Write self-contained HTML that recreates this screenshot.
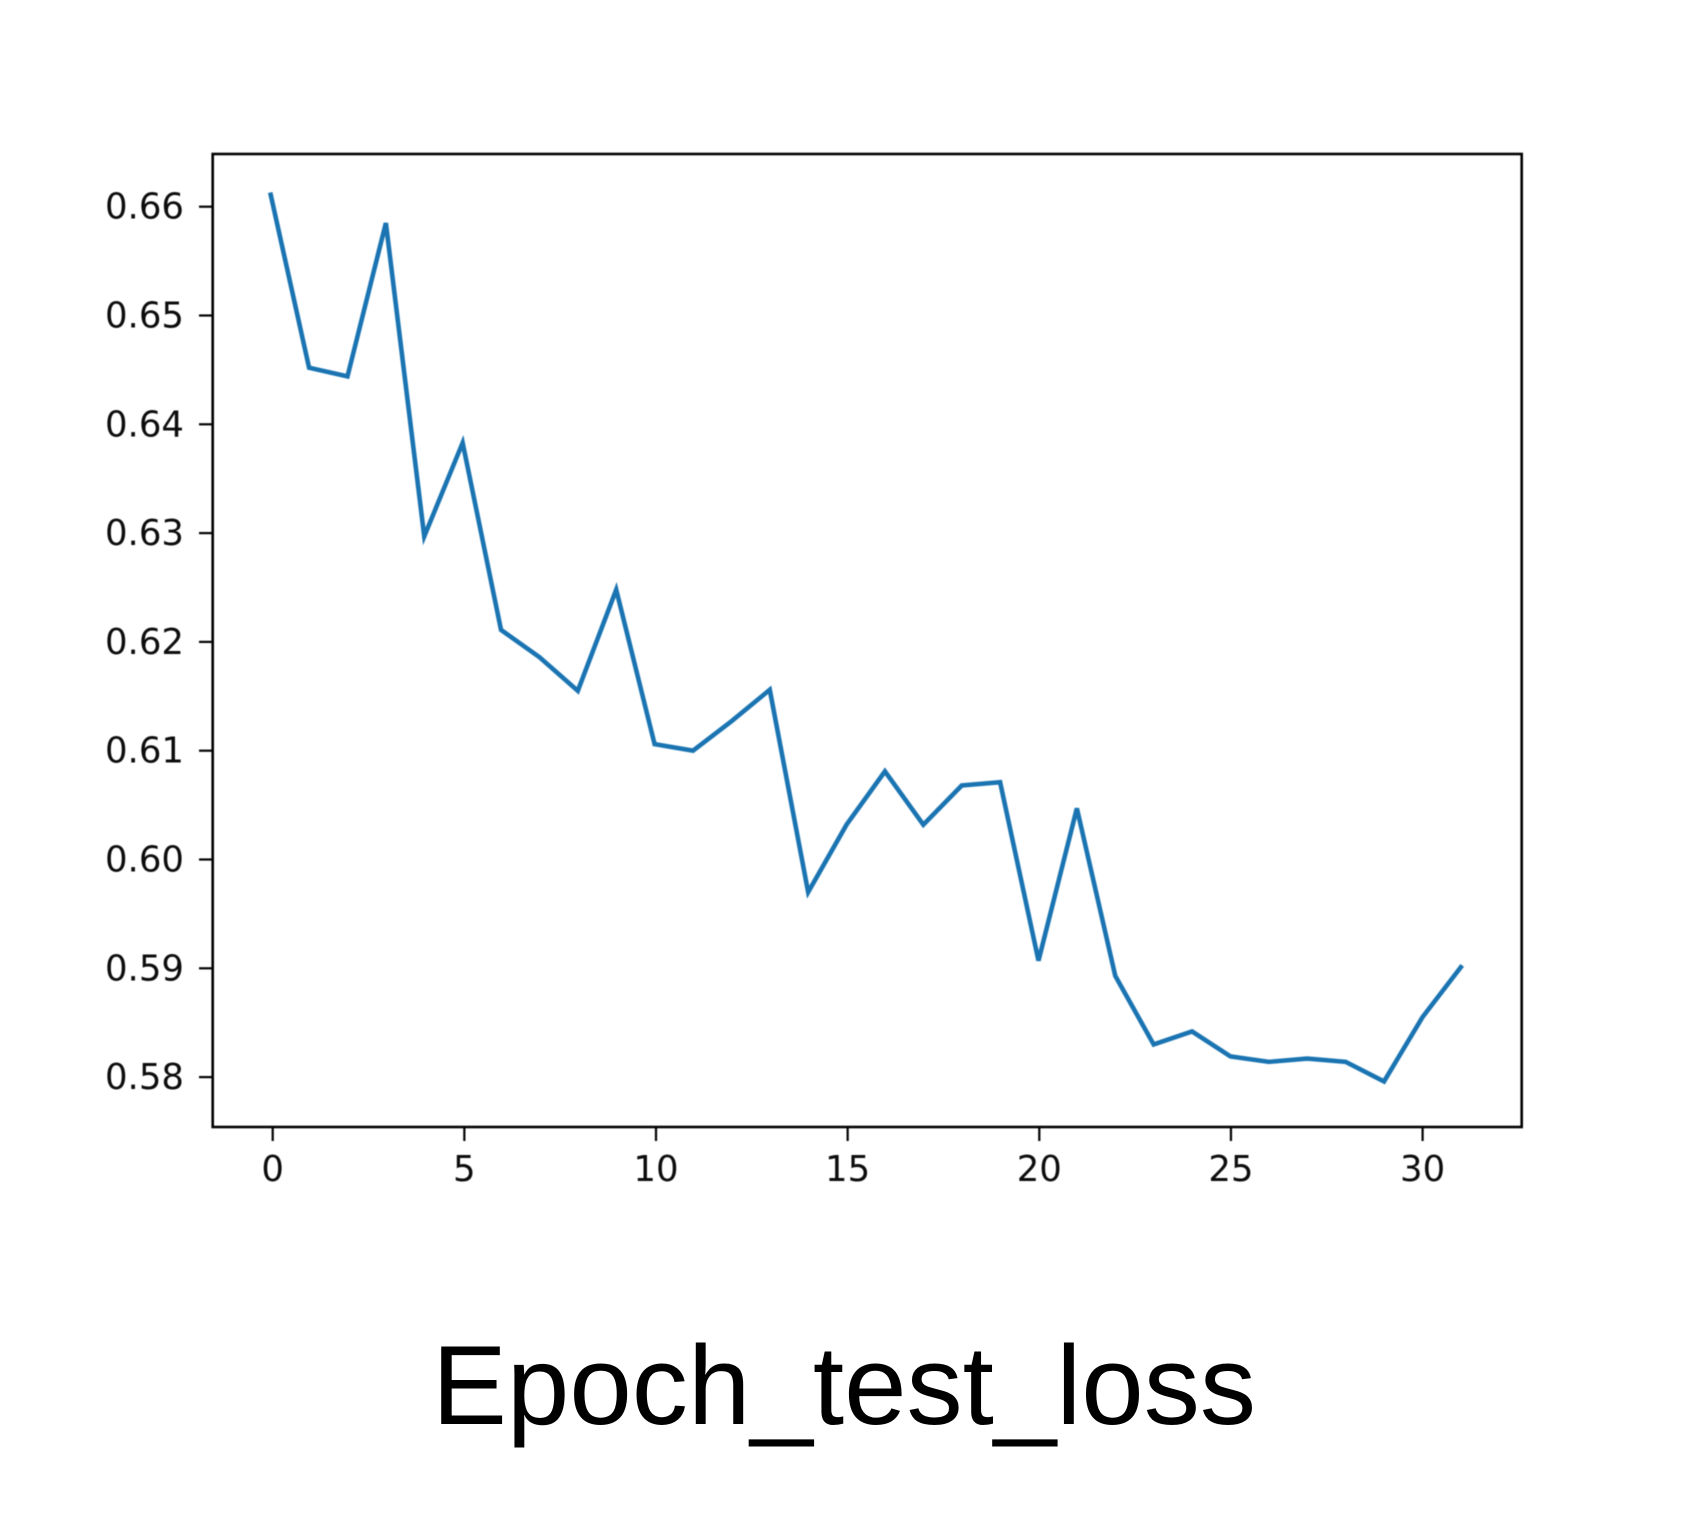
<!DOCTYPE html>
<html lang="en">
<head>
<meta charset="utf-8">
<title>Epoch_test_loss</title>
<style>
html,body{margin:0;padding:0;background:#fff;}
#chart{display:block;width:1689px;height:1518px;}
.tick-text{font-family:"DejaVu Sans",sans-serif;font-size:35.5px;fill:#0c0c0c;}
#chart-title{font-family:"Liberation Sans",Arial,sans-serif;font-size:112.3px;fill:#000;}
#plot-layer{filter:blur(0.6px);}
</style>
</head>
<body>
<svg id="chart" xmlns="http://www.w3.org/2000/svg" width="1689" height="1518" viewBox="0 0 1689 1518">
  <rect x="0" y="0" width="1689" height="1518" fill="#fff"/>
  <g id="plot-layer">
    <g id="ticks"></g>
    <polyline id="line" fill="none" stroke="#1a74b2" stroke-width="4.6" stroke-linejoin="miter" stroke-linecap="square"/>
    <rect id="frame" x="212.7" y="154" width="1309" height="973" fill="none" stroke="#000" stroke-width="2.6"/>
  </g>
  <text id="chart-title" x="432" y="1424">Epoch_test_loss</text>
</svg>
<script>
const epochs = [0,1,2,3,4,5,6,7,8,9,10,11,12,13,14,15,16,17,18,19,20,21,22,23,24,25,26,27,28,29,30,31];
const testLoss = [0.6611,0.6452,0.6444,0.6585,0.6297,0.6383,0.6211,0.6186,0.6155,0.6248,0.6106,0.6100,0.6127,0.6156,0.5970,0.6032,0.6081,0.6032,0.6068,0.6071,0.5907,0.6047,0.5893,0.5830,0.5842,0.5819,0.5814,0.5817,0.5814,0.5796,0.5855,0.5901];
const xTicks = [0,5,10,15,20,25,30];
const yTicks = [0.58,0.59,0.60,0.61,0.62,0.63,0.64,0.65,0.66];

const NS = 'http://www.w3.org/2000/svg';
function xScale(v){ return 272.7 + (v - 0) * 38.33; }
function lineX(v){ return 270.7 + (v - 0) * 38.39; }
function yScale(v){ return 206.7 + (0.66 - v) * 10880; }

document.getElementById('line').setAttribute('points',
  testLoss.map(function(v,i){ return lineX(epochs[i]).toFixed(2) + ',' + yScale(v).toFixed(2); }).join(' '));

const tickGroup = document.getElementById('ticks');
xTicks.forEach(function(t){
  const mark = document.createElementNS(NS,'line');
  
  
  mark.setAttribute('x1', xScale(t)); mark.setAttribute('x2', xScale(t));
  mark.setAttribute('y1', 1127); mark.setAttribute('y2', 1141);
  mark.setAttribute('stroke', '#000'); mark.setAttribute('stroke-width', '2.2');
  tickGroup.appendChild(mark);
  const label = document.createElementNS(NS,'text');
  
  
  label.setAttribute('class', 'tick-text');
  label.setAttribute('x', xScale(t)); label.setAttribute('y', 1181);
  label.setAttribute('text-anchor', 'middle');
  label.textContent = String(t);
  tickGroup.appendChild(label);
});
yTicks.forEach(function(t){
  const mark = document.createElementNS(NS,'line');
  
  
  mark.setAttribute('x1', 199); mark.setAttribute('x2', 213);
  mark.setAttribute('y1', yScale(t)); mark.setAttribute('y2', yScale(t));
  mark.setAttribute('stroke', '#000'); mark.setAttribute('stroke-width', '2.2');
  tickGroup.appendChild(mark);
  const label = document.createElementNS(NS,'text');
  
  
  label.setAttribute('class', 'tick-text');
  label.setAttribute('x', 184); label.setAttribute('y', yScale(t) + 12);
  label.setAttribute('text-anchor', 'end');
  label.textContent = t.toFixed(2);
  tickGroup.appendChild(label);
});
</script>
</body>
</html>
